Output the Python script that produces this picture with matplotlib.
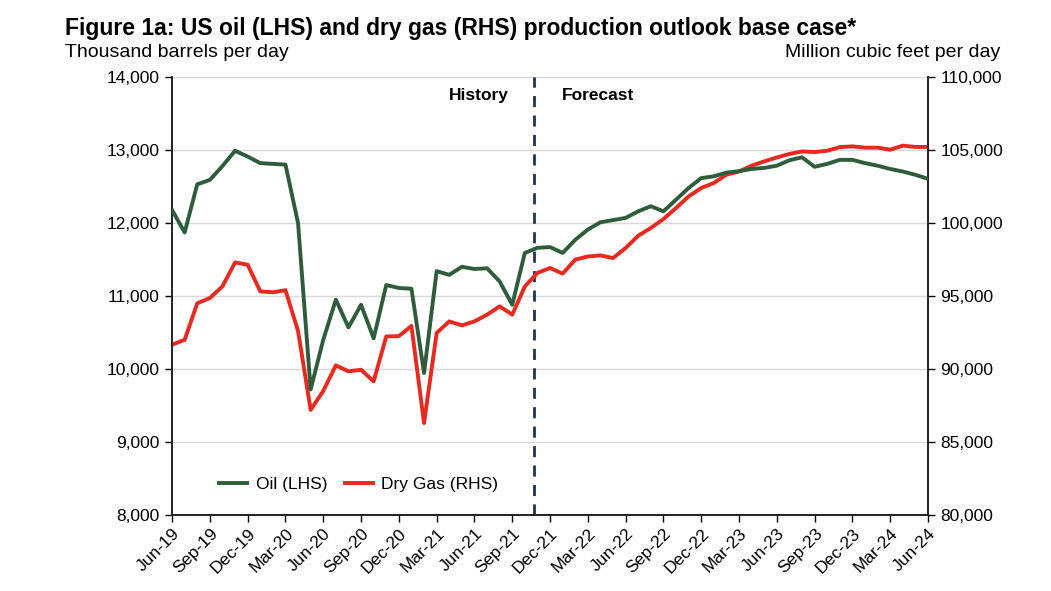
import matplotlib
matplotlib.use("Agg")
import matplotlib.pyplot as plt
from matplotlib.ticker import FuncFormatter, MultipleLocator

# Monthly series, Jun-19 .. Jun-24 (61 months)
months = list(range(61))
oil_kbd = [
    12180, 11870, 12530, 12590, 12780, 12990, 12910, 12820, 12810, 12800,
    12000, 9720, 10400, 10950, 10570, 10880, 10420, 11150, 11110, 11100,
    9945, 11340, 11290, 11400, 11370, 11380, 11200, 10880, 11590, 11660,
    11670, 11590, 11770, 11910, 12010, 12040, 12070, 12160, 12230, 12160,
    12320, 12480, 12615, 12640, 12690, 12710, 12740, 12755, 12785, 12860,
    12900, 12770, 12810, 12865, 12865, 12820, 12785, 12740, 12705, 12660,
    12605,
]
gas_mmcfd = [
    91660, 92000, 94500, 94860, 95660, 97300, 97140, 95320, 95250, 95400,
    92600, 87200, 88500, 90250, 89840, 89950, 89150, 92230, 92250, 92950,
    86300, 92470, 93260, 92990, 93260, 93720, 94290, 93720, 95660, 96580,
    96920, 96530, 97490, 97710, 97780, 97600, 98290, 99130, 99660, 100270,
    101030, 101820, 102400, 102740, 103310, 103530, 103925, 104220, 104490, 104730,
    104900, 104860, 104950, 105200, 105250, 105160, 105160, 105020, 105300, 105210,
    105210,
]
tick_labels = [
    "Jun-19", "Sep-19", "Dec-19", "Mar-20", "Jun-20", "Sep-20", "Dec-20",
    "Mar-21", "Jun-21", "Sep-21", "Dec-21", "Mar-22", "Jun-22", "Sep-22",
    "Dec-22", "Mar-23", "Jun-23", "Sep-23", "Dec-23", "Mar-24", "Jun-24",
]
forecast_start = 28.7  # months after Jun-19

OIL_COLOR = "#2f5d3c"
GAS_COLOR = "#e8291f"

plt.rcParams["font.family"] = ["Liberation Sans", "DejaVu Sans"]

fig = plt.figure(figsize=(10.51, 5.91), dpi=100)
ax = fig.add_axes([0.1637, 0.1286, 0.7193, 0.7411])
ax2 = ax.twinx()

# grid on the left axis
ax.set_ylim(8000, 14000)
ax.yaxis.set_major_locator(MultipleLocator(1000))
ax.grid(axis="y", color="#d9d9d9", linewidth=1.0)
ax.set_axisbelow(True)

# gas on right axis
ax2.set_ylim(80000, 110000)
ax2.yaxis.set_major_locator(MultipleLocator(5000))
gas_line, = ax2.plot(months, gas_mmcfd, color=GAS_COLOR, linewidth=2.8,
                     solid_joinstyle="round", label="Dry Gas (RHS)")

# oil drawn above the gas line, on the left-axis scale
ax3 = ax.twinx()
ax3.set_ylim(8000, 14000)
ax3.axis("off")
oil_line, = ax3.plot(months, oil_kbd, color=OIL_COLOR, linewidth=2.8,
                     solid_joinstyle="round", label="Oil (LHS)")

ax.set_xlim(0, 60)
ax.set_xticks(range(0, 61, 3))
ax.set_xticklabels(tick_labels, rotation=45, ha="right", va="top",
                   rotation_mode="anchor", fontsize=12.5)

fmt = FuncFormatter(lambda v, p: f"{v:,.0f}")
ax.yaxis.set_major_formatter(fmt)
ax2.yaxis.set_major_formatter(fmt)
ax.tick_params(axis="y", labelsize=12.5, length=5, width=1, pad=4)
ax2.tick_params(axis="y", labelsize=12.5, length=5, width=1, pad=4)
ax.tick_params(axis="x", length=5, width=1, pad=3)

for a in (ax, ax2):
    a.spines["top"].set_visible(False)
    for s in ("left", "right", "bottom"):
        a.spines[s].set_color("#222222")
        a.spines[s].set_linewidth(1.2)

# history / forecast divider
ax.axvline(forecast_start, color="#1f3552", linestyle=(0, (4, 3)),
           linewidth=2.0, zorder=5)
ax.text(forecast_start - 2.0, 13750, "History", ha="right", va="center",
        fontsize=12.5, fontweight="bold")
ax.text(forecast_start + 2.2, 13750, "Forecast", ha="left", va="center",
        fontsize=12.5, fontweight="bold")

ax.legend(handles=[oil_line, gas_line], loc="lower left", ncol=2,
          frameon=False, fontsize=12.5, bbox_to_anchor=(0.042, 0.016),
          handlelength=1.6, columnspacing=1.0, handletextpad=0.5)

fig.text(0.062, 0.972, "Figure 1a: US oil (LHS) and dry gas (RHS) production outlook base case*",
         ha="left", va="top", fontsize=16.5, fontweight="bold")
fig.text(0.062, 0.925, "Thousand barrels per day", ha="left", va="top", fontsize=14)
fig.text(0.952, 0.925, "Million cubic feet per day", ha="right", va="top", fontsize=14)

fig.savefig("out.png", dpi=100, facecolor="white")
